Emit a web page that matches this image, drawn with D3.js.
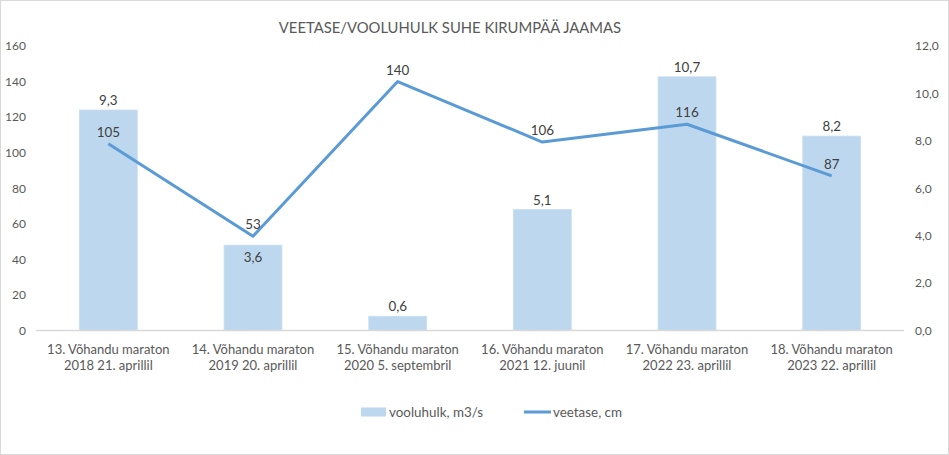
<!DOCTYPE html>
<html><head><meta charset="utf-8">
<script src="https://cdn.jsdelivr.net/npm/d3@7"></script>
<style>body{margin:0;background:#fff}svg{display:block;font-family:Lato,"Open Sans",sans-serif}</style>
</head><body><svg id="c" width="949" height="455"></svg>
<script>
const categories = [
  ["13. Võhandu maraton","2018 21. aprillil"],
  ["14. Võhandu maraton","2019 20. aprillil"],
  ["15. Võhandu maraton","2020 5. septembril"],
  ["16. Võhandu maraton","2021 12. juunil"],
  ["17. Võhandu maraton","2022 23. aprillil"],
  ["18. Võhandu maraton","2023 22. aprillil"]
];
const vooluhulk = [9.3, 3.6, 0.6, 5.1, 10.7, 8.2];
const veetase = [105, 53, 140, 106, 116, 87];
const leftTicks = [0,20,40,60,80,100,120,140,160];
const rightTicks = [0,2,4,6,8,10,12];
const title = "VEETASE/VOOLUHULK SUHE KIRUMPÄÄ JAAMAS";
const seriesNames = ["vooluhulk, m3/s","veetase, cm"];

const svg = d3.select("#c");
const W=949,H=455;
const x0=36,x1=904,yB=330.5,yT=46;
const fmt = v => v.toFixed(1).replace(".",",");

svg.append("rect").attr("x",0.5).attr("y",0.5).attr("width",W-1).attr("height",H-1)
  .attr("fill","#fff").attr("stroke","#d9d9d9");

const x = d3.scaleBand().domain(d3.range(categories.length)).range([x0,x1]).paddingInner(0.6).paddingOuter(0.3);
const yL = d3.scaleLinear().domain([0,160]).range([yB,yT]);
const yR = d3.scaleLinear().domain([0,12]).range([yB,yT]);

svg.append("text").attr("x",450).attr("y",33.3).attr("text-anchor","middle")
  .attr("font-size",14.8).attr("fill","#595959").text(title);

// left axis
const gl = svg.append("g").attr("transform",`translate(${x0-10},0)`)
  .call(d3.axisLeft(yL).tickValues(leftTicks).tickSize(0).tickPadding(0));
gl.select(".domain").remove();
gl.selectAll("text").attr("font-size",12).attr("fill","#595959").attr("font-family","Lato");

// right axis
const gr = svg.append("g").attr("transform",`translate(${x1+11},0)`)
  .call(d3.axisRight(yR).tickValues(rightTicks).tickSize(0).tickPadding(0).tickFormat(fmt));
gr.select(".domain").remove();
gr.selectAll("text").attr("font-size",12).attr("fill","#595959").attr("font-family","Lato");

// bars
svg.selectAll("rect.bar").data(vooluhulk).join("rect").attr("class","bar")
  .attr("x",(d,i)=>x(i)).attr("width",x.bandwidth())
  .attr("y",d=>yR(d)).attr("height",d=>yB-yR(d))
  .attr("fill","#bdd7ee").attr("stroke","#c9def2").attr("stroke-width",0.8);

// baseline
svg.append("line").attr("x1",x0).attr("x2",x1).attr("y1",yB).attr("y2",yB)
  .attr("stroke","#d9d9d9").attr("stroke-width",1.3);

// category labels
categories.forEach((c,i)=>{
  const t = svg.append("text").attr("x",x(i)+x.bandwidth()/2).attr("text-anchor","middle")
    .attr("font-size",13).attr("fill","#595959");
  t.append("tspan").attr("x",x(i)+x.bandwidth()/2).attr("y",354).text(c[0]);
  t.append("tspan").attr("x",x(i)+x.bandwidth()/2).attr("y",370).text(c[1]);
});

// line
const line = d3.line().x((d,i)=>x(i)+x.bandwidth()/2).y(d=>yL(d));
svg.append("path").datum(veetase).attr("d",line).attr("fill","none")
  .attr("stroke","#5b9bd5").attr("stroke-width",3).attr("stroke-linejoin","round");

// bar labels
vooluhulk.forEach((v,i)=>{
  const top = yR(v), lp = yL(veetase[i]);
  const inside = lp < top && top - lp < 20;
  svg.append("text").attr("x",x(i)+x.bandwidth()/2).attr("y", inside ? top+17 : top-5)
    .attr("text-anchor","middle").attr("font-size",13.4).attr("fill","#404040").text(fmt(v));
});
// line labels
veetase.forEach((v,i)=>{
  svg.append("text").attr("x",x(i)+x.bandwidth()/2).attr("y",yL(v)-7)
    .attr("text-anchor","middle").attr("font-size",13.4).attr("fill","#404040").text(v);
});

// legend
const lg = svg.append("g");
lg.append("rect").attr("x",361).attr("y",407.5).attr("width",25).attr("height",9).attr("fill","#bdd7ee");
lg.append("text").attr("x",389).attr("y",417).attr("font-size",13.4).attr("fill","#595959").text(seriesNames[0]);
lg.append("line").attr("x1",524).attr("x2",551).attr("y1",412).attr("y2",412).attr("stroke","#5b9bd5").attr("stroke-width",3);
lg.append("text").attr("x",553).attr("y",417).attr("font-size",13.4).attr("fill","#595959").text(seriesNames[1]);
</script></body></html>
